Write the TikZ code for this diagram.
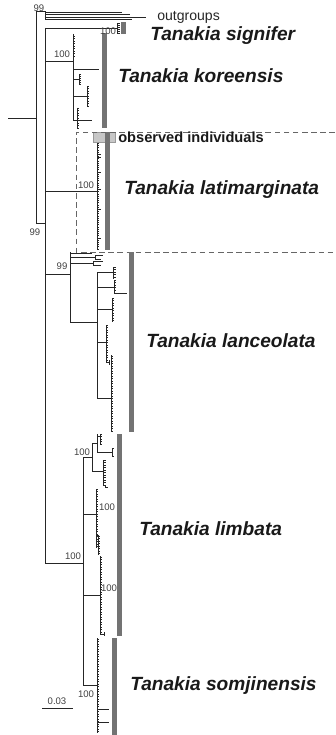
\documentclass[tikz,border=0pt]{standalone}
\usepackage{fontspec}
\setmainfont{Liberation Sans}

\begin{document}
\begin{tikzpicture}[
        x=0.025cm, y=-0.025cm,
        branch/.style={line width=0.7pt, black!85},
        twig/.style={line width=0.4pt, black!85},
        cladebar/.style={fill=black!55, draw=none},
        spname/.style={anchor=base west, inner sep=0pt, font=\fontsize{13.6}{16}\selectfont\bfseries\itshape, text=black!90},
        support/.style={inner sep=0pt, font=\fontsize{6.8}{8}\selectfont, text=black!75}
    ]
        \useasboundingbox (0,0) rectangle (335,735);

        % backbone
        \coordinate (root) at (36,118);
        \coordinate (ingroup) at (45,223);
        \draw[branch] (8,118) -- (root);
        \draw[branch] (36,11) -- (36,223) -- (ingroup);
        \draw[branch] (45,28) -- (45,563);

        % outgroups
        \draw[branch] (36,11) -- (45,11) -- (45,20);
        \draw[branch] (45,12.3) -- (122,12.3);
        \draw[branch] (45,14.6) -- (130,14.6);
        \draw[branch] (45,17) -- (146,17);
        \draw[branch] (45,19.4) -- (132,19.4);

        % signifer
        \draw[branch] (45,28) -- (117,28);
        \draw[twig] (117,23) -- (117,33);
        \foreach \y in {23,25,...,33} \draw[twig] (117,\y) -- ++(2.5,0);
        \fill[cladebar] (121,22) rectangle (126,34);

        % koreensis
        \draw[branch] (45,61) -- (73,61);
        \draw[branch] (73,34) -- (73,120);
        \foreach \y in {36,38.5,...,58} \draw[twig] (73,\y) -- ++(2,0);
        \draw[branch] (73,69) -- (99,69);
        \draw[branch] (73,79) -- (79,79);
        \draw[twig] (79,74) -- (79,85);
        \foreach \y in {74,76,...,85} \draw[twig] (79,\y) -- ++(2,0);
        \draw[branch] (73,96) -- (87,96);
        \draw[twig] (87,86) -- (87,106);
        \foreach \y in {86,88.5,...,106} \draw[twig] (87,\y) -- ++(2,0);
        \draw[branch] (73,120) -- (77,120);
        \draw[twig] (77,108) -- (77,129);
        \foreach \y in {108,110.5,...,129} \draw[twig] (77,\y) -- ++(2,0);
        \draw[branch] (77,120) -- (92,120);
        \fill[cladebar] (102,33) rectangle (107,128);

        % latimarginata
        \draw[branch] (45,191) -- (97,191);
        \draw[twig] (97,140) -- (97,250);
        \foreach \y in {141,143.2,...,249} \draw[twig] (97,\y) -- ++(1.5,0);
        \foreach \y in {154,157,172,189,209,238} \draw[twig] (97,\y) -- ++(4,0);
        \fill[black!22] (93,132) rectangle (115,142);
        \draw[black!40, line width=0.3pt] (93,132) rectangle (115,142);
        \fill[cladebar] (105,132) rectangle (110,250);
        \draw[black!60, line width=0.6pt, dash pattern=on 4pt off 2.5pt] (335,132) -- (76,132) -- (76,252) -- (335,252);

        % lanceolata
        \draw[branch] (45,274) -- (70,274);
        \draw[branch] (70,252) -- (70,322);
        \draw[branch] (70,253) -- (92,253);
        \draw[branch] (70,257) -- (95,257);
        \draw[twig] (95,255) -- (95,259) (95,255) -- (103,255) (95,259) -- (101,259);
        \draw[branch] (70,263) -- (93,263);
        \draw[twig] (93,261) -- (93,265) (93,261) -- (103,261) (93,265) -- (101,265);
        \draw[branch] (70,322) -- (97,322);
        \draw[branch] (97,272) -- (97,398);
        \draw[branch] (97,272) -- (113,272);
        \draw[twig] (113,267) -- (113,279);
        \foreach \y in {267,269.5,...,279} \draw[twig] (113,\y) -- ++(2.5,0);
        \draw[branch] (97,287) -- (114,287);
        \draw[twig] (114,280) -- (114,293);
        \foreach \y in {280,282.5,...,291} \draw[twig] (114,\y) -- ++(2,0);
        \draw[branch] (114,293) -- (127,293);
        \draw[branch] (97,309) -- (112,309);
        \draw[twig] (112,298) -- (112,322);
        \foreach \y in {298,300.5,...,322} \draw[twig] (112,\y) -- ++(2,0);
        \draw[branch] (97,342) -- (106,342);
        \draw[twig] (106,325) -- (106,362);
        \foreach \y in {325,327.5,...,362} \draw[twig] (106,\y) -- ++(1.5,0);
        \draw[twig] (106,362) -- (109,362) (109,360) -- (109,365);
        \draw[branch] (97,398) -- (111,398);
        \draw[twig] (111,355) -- (111,432);
        \foreach \y in {356,358.5,...,432} \draw[twig] (111,\y) -- ++(1.5,0);
        \fill[cladebar] (129,252) rectangle (134,432);

        % limbata + somjinensis
        \draw[branch] (45,563) -- (83,563);
        \draw[branch] (83,457) -- (83,685);
        \draw[branch] (83,457) -- (92,457);
        \draw[branch] (92,443) -- (92,471);
        \draw[branch] (92,443) -- (97,443);
        \draw[branch] (97,434) -- (97,452);
        \draw[branch] (97,436) -- (100,436);
        \draw[twig] (100,434) -- (100,445);
        \foreach \y in {434,436.5,...,445} \draw[twig] (100,\y) -- ++(2,0);
        \draw[branch] (97,452) -- (112,452);
        \draw[twig] (112,448) -- (112,456) (112,448) -- ++(2,0) (112,456) -- ++(2,0);
        \draw[branch] (92,471) -- (103,471);
        \draw[twig] (103,460) -- (103,485);
        \foreach \y in {460,462.5,...,485} \draw[twig] (103,\y) -- ++(2.5,0);
        \draw[twig] (105,485) -- (105,487) -- (108,487);

        \draw[branch] (83,514) -- (96,514);
        \draw[twig] (96,489) -- (96,548);
        \foreach \y in {489,491.5,...,548} \draw[twig] (96,\y) -- ++(1.5,0);
        \draw[twig] (96,535) -- (98,535) (98,535) -- (98,555);
        \foreach \y in {536,538.5,...,555} \draw[twig] (98,\y) -- ++(1.5,0);

        \draw[branch] (83,595) -- (100,595);
        \draw[twig] (100,556) -- (100,634);
        \foreach \y in {557,559.5,...,634} \draw[twig] (100,\y) -- ++(1.5,0);
        \draw[twig] (100,634) -- (104,634) (104,632) -- (104,636);
        \fill[cladebar] (117,434) rectangle (122,636);

        \draw[branch] (83,685) -- (97,685);
        \draw[twig] (97,638) -- (97,733);
        \foreach \y in {639,641.5,...,733} \draw[twig] (97,\y) -- ++(1.5,0);
        \draw[branch] (97,709) -- (109,709);
        \draw[branch] (97,722) -- (109,722);
        \fill[cladebar] (112,638) rectangle (117,735);

        % scale bar
        \coordinate (sc-a) at (42,708);
        \coordinate (sc-b) at (73,708);
        \draw[branch] (sc-a) -- (sc-b);
        \node[support] (scale) at (57,701) {0.03};

        % support values
        \node[support] (bs-out) at (39,8) {99};
        \node[support] (bs-root) at (35,232) {99};
        \node[support] (bs-sig) at (108,31) {100};
        \node[support] (bs-kor) at (62,54) {100};
        \node[support] (bs-lat) at (86,185) {100};
        \node[support] (bs-lan) at (62,266) {99};
        \node[support] (bs-ls) at (73,556) {100};
        \node[support] (bs-lim) at (82,452) {100};
        \node[support] (bs-lim2) at (107,507) {100};
        \node[support] (bs-lim3) at (109,588) {100};
        \node[support] (bs-som) at (86,694) {100};

        % labels
        \node[anchor=base west, inner sep=0pt, font=\fontsize{10}{12}\selectfont, text=black!85] (outg) at (157,21) {outgroups};
        \node[spname] (signifer) at (150,41) {Tanakia signifer};
        \node[spname] (koreensis) at (118,83) {Tanakia koreensis};
        \node[anchor=base west, inner sep=0pt, font=\fontsize{10.4}{12}\selectfont\bfseries, text=black!90] (observed) at (118,142.5) {observed individuals};
        \node[spname] (latimarginata) at (124,194) {Tanakia latimarginata};
        \node[spname] (lanceolata) at (146,347) {Tanakia lanceolata};
        \node[spname] (limbata) at (139,535) {Tanakia limbata};
        \node[spname] (somjinensis) at (130,690) {Tanakia somjinensis};
    \end{tikzpicture}
\end{document}
